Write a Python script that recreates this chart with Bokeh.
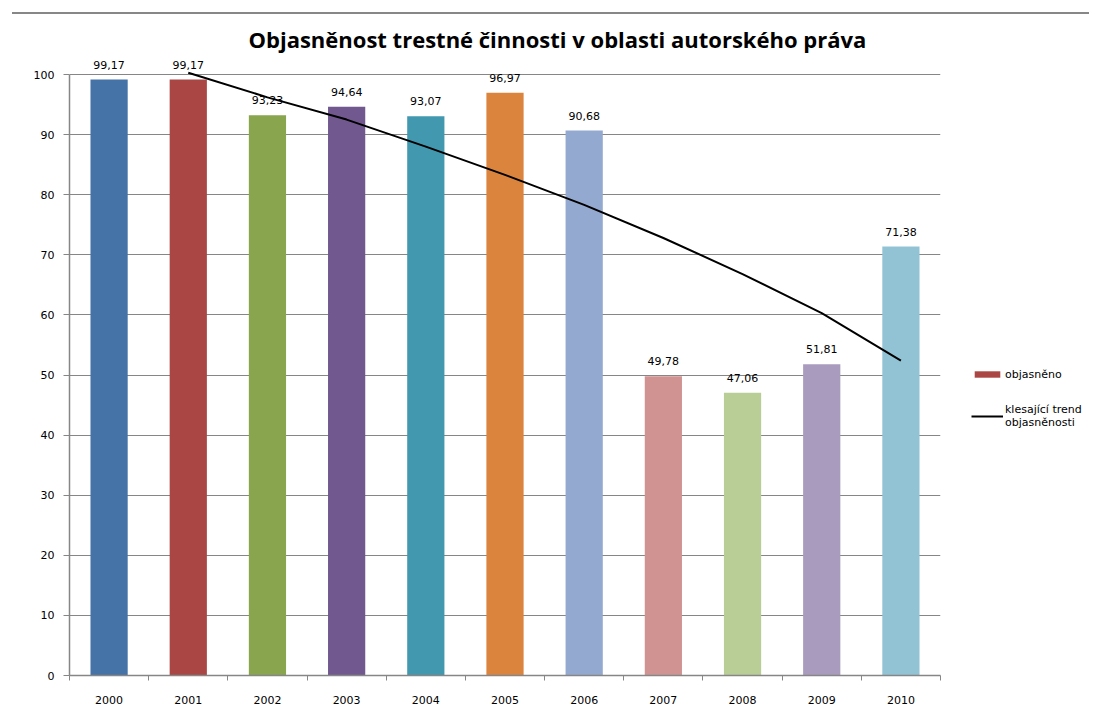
from bokeh.plotting import figure
from bokeh.models import (ColumnDataSource, FixedTicker, Legend, LegendItem, Div, Range1d)
from bokeh.layouts import column
from bokeh.embed import file_html
from bokeh.resources import INLINE

years = ["2000", "2001", "2002", "2003", "2004", "2005", "2006", "2007", "2008", "2009", "2010"]
values = [99.17, 99.17, 93.23, 94.64, 93.07, 96.97, 90.68, 49.78, 47.06, 51.81, 71.38]
colors = ["#4572A7", "#AA4643", "#89A54E", "#71588F", "#4198AF", "#DB843D",
          "#93A9CF", "#D19392", "#B9CD96", "#A99BBD", "#91C3D5"]
trend_years = ["2001", "2002", "2003", "2004", "2005", "2006", "2007", "2008", "2009", "2010"]
trend_values = [100.3, 96.2, 92.5, 88.0, 83.3, 78.3, 72.8, 66.8, 60.3, 52.4]
y_ticks = [0, 10, 20, 30, 40, 50, 60, 70, 80, 90, 100]

xs = list(range(len(years)))
labels = [f"{v:.2f}".replace(".", ",") for v in values]
src = ColumnDataSource(dict(x=xs, top=values, color=colors, label=labels))
tsrc = ColumnDataSource(dict(x=[years.index(y) for y in trend_years], y=trend_values))

FONT = "DejaVu Sans"
GRAY = "#868686"

p = figure(frame_width=871, frame_height=621,
           x_range=Range1d(-0.5, len(years) - 0.5), y_range=Range1d(0, 103.33),
           output_backend="svg", toolbar_location=None,
           min_border_left=69, min_border_right=143, min_border_top=39, min_border_bottom=34,
           title="Objasněnost trestné činnosti v oblasti autorského práva")
p.outline_line_color = None
p.title.align = "left"
p.title.offset = 179
p.title.text_font = "Open Sans"
p.title.text_font_style = "bold"
p.title.text_font_size = "22px"
p.title.text_color = "#000000"
p.title.standoff = 2

bars = p.vbar(x="x", top="top", width=0.47, bottom=0, fill_color="color", line_color=None, source=src)
p.text(x="x", y="top", text="label", source=src, text_align="center", text_baseline="middle",
       y_offset=-15, text_font_size="11px", text_color="#000000",
       text_font={"value": FONT})
trend = p.line(x="x", y="y", source=tsrc, line_color="#000000", line_width=2)

# axes
p.xaxis.ticker = FixedTicker(ticks=xs, minor_ticks=[i - 0.5 for i in range(len(years) + 1)])
p.xaxis.major_label_overrides = {i: y for i, y in enumerate(years)}
p.xaxis.major_tick_out = 0
p.xaxis.major_tick_in = 0
p.xaxis.minor_tick_out = 5
p.xaxis.minor_tick_in = 0
p.xaxis.minor_tick_line_color = GRAY
p.xaxis.major_label_standoff = 15
p.xaxis.axis_line_color = GRAY
p.xaxis.bounds = (-0.5, len(years) - 0.5)

p.yaxis.ticker = FixedTicker(ticks=y_ticks)
p.yaxis.bounds = (0, 100)
p.yaxis.major_tick_out = 6
p.yaxis.major_tick_in = 0
p.yaxis.minor_tick_out = 0
p.yaxis.minor_tick_in = 0
p.yaxis.major_tick_line_color = GRAY
p.yaxis.axis_line_color = GRAY
p.yaxis.major_label_standoff = 9

for ax in (p.xaxis, p.yaxis):
    ax.major_label_text_font = FONT
    ax.major_label_text_font_size = "11px"
    ax.major_label_text_color = "#000000"
    ax.axis_line_width = 1.5

p.xgrid.grid_line_color = None
p.ygrid.grid_line_color = GRAY
p.ygrid.grid_line_width = 1

legend = Legend(items=[
    LegendItem(label="objasněno", renderers=[bars], index=1),
    LegendItem(label="klesající trend\nobjasněnosti", renderers=[trend]),
], location=(31, 246))
legend.border_line_color = None
legend.background_fill_alpha = 0
legend.padding = 0
legend.margin = 0
legend.glyph_width = 32
legend.glyph_height = 8
legend.label_height = 14
legend.label_standoff = 2
legend.spacing = 22
legend.label_text_font = FONT
legend.label_text_font_size = "11px"
legend.label_text_color = "#000000"
p.add_layout(legend, "right")

bar_line = Div(text='<div style="width:1077px;height:2px;background:#878787;margin-left:7px;position:relative;top:-3px"></div>',
               width=1083, height=5)

layout = column(bar_line, p)
open("out.html", "w").write(file_html(layout, INLINE))
